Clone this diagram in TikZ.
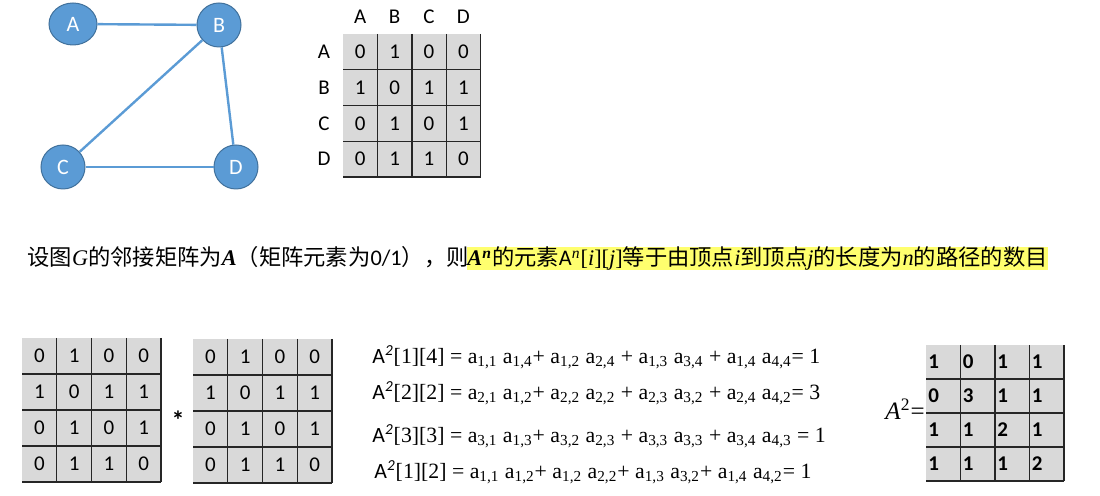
\documentclass[tikz,border=0pt]{standalone}
\usepackage{fontspec}
\setmainfont{Liberation Serif}
\newfontfamily\cjk{Noto Sans CJK SC}
\newfontfamily\calib{Carlito}
\usepackage{tikz}
\usetikzlibrary{positioning, shapes.geometric}

\definecolor{vblue}{HTML}{5B9BD5}
\definecolor{vborder}{HTML}{41719C}
\definecolor{cellgray}{HTML}{D9D9D9}
\definecolor{hilite}{RGB}{255,255,110}

\tikzset{
    vertex/.style={circle, fill=vblue, draw=vborder, line width=0.5pt, minimum size=22pt, inner sep=0pt, text=white, font=\calib\fontsize{11}{13}\selectfont},
    edge/.style={draw=vblue, line width=1.2pt},
    lbl/.style={inner sep=0pt, font=\calib\fontsize{10.5}{12}\selectfont},
    cellnum/.style={inner sep=0pt, font=\calib\fontsize{10.5}{12}\selectfont},
    gridline/.style={line width=0.7pt, black!85},
    eqn/.style={inner sep=0pt, anchor=west, font=\fontsize{10.9}{13}\selectfont}
}

\newcommand{\ax}[1]{a\textsubscript{#1}}
\newcommand{\Asq}{{\calib A\textsuperscript{\itshape 2}}}

% name, x0, y0, cell width, cell height, rows
\newcommand{\cellgrid}[6]{
    \fill[cellgray] (#2,#3) rectangle ({#2+4*#4},{#3+4*#5});
    \foreach \row [count=\r] in {#6} {
        \foreach \v [count=\c] in \row {
            \node[cellnum] (#1-\r-\c) at ({#2+(\c-0.5)*#4},{#3+(\r-0.5)*#5}) {\v};
        }
    }
    \foreach \k in {1,...,4} {
        \draw[gridline] ({#2+\k*#4},#3) -- ({#2+\k*#4},{#3+4*#5});
        \draw[gridline] (#2,{#3+\k*#5}) -- ({#2+4*#4},{#3+\k*#5});
    }
}

\begin{document}
\begin{tikzpicture}[x=0.5pt, y=-0.5pt]
    \useasboundingbox (0,0) rectangle (1100,496);

    \node[vertex, ellipse, minimum width=24pt, minimum height=21pt] (A) at (73,24) {A};
    \node[vertex] (B) at (219,25) {B};
    \node[vertex] (C) at (63,167) {C};
    \node[vertex] (D) at (236,167) {D};
    \draw[edge] (A) -- (B);
    \draw[edge] (B) -- (C);
    \draw[edge] (B) -- (D);
    \draw[edge] (C) -- (D);

    \cellgrid{adj}{343}{34}{34.4}{35.75}{{0,1,0,0},{1,0,1,1},{0,1,0,1},{0,1,1,0}}
    \foreach \n [count=\i] in {A,B,C,D} {
        \node[lbl] (col\n) at ({343+(\i-0.5)*34.4},17) {\n};
        \node[lbl] (row\n) at (324,{34+(\i-0.5)*35.75}) {\n};
    }

    \node[inner sep=0pt, anchor=base west, font=\fontsize{11.15}{13}\selectfont] (s1) at (27,266)
        {{\cjk 设图}\textit{G}{\cjk 的邻接矩阵为}\textbf{\textit{A}}{\cjk （矩阵元素为}{\calib 0/1}{\cjk ），则}};
    \node[fill=hilite, inner xsep=0pt, inner ysep=0pt, text height=9.5pt, text depth=2pt, anchor=base west,
        font=\fontsize{11.15}{13}\selectfont] (s2) at ([xshift=-1pt]s1.base east)
        {\textbf{\textit{A\textsuperscript{n}}}{\cjk 的元素}{\calib A}\textsuperscript{\textit{n}}[\textit{i}][\textit{j}]{\cjk 等于由顶点}\textit{i}{\cjk 到顶点}\textit{j}{\cjk 的长度为}\textit{n}{\cjk 的路径的数目}};

    \cellgrid{left}{22}{338}{34.75}{36}{{0,1,0,0},{1,0,1,1},{0,1,0,1},{0,1,1,0}}
    \node[cellnum, font=\calib\bfseries\fontsize{13}{14}\selectfont] (times) at (178,420) {*};
    \cellgrid{right}{193}{339}{34.75}{36}{{0,1,0,0},{1,0,1,1},{0,1,0,1},{0,1,1,0}}

    \node[eqn] (eq1) at (372,357) {\Asq[1][4] = \ax{1,1} \ax{1,4}+ \ax{1,2} \ax{2,4} + \ax{1,3} \ax{3,4} + \ax{1,4} \ax{4,4}= 1};
    \node[eqn] (eq2) at (372,393) {\Asq[2][2] = \ax{2,1} \ax{1,2}+ \ax{2,2} \ax{2,2} + \ax{2,3} \ax{3,2} + \ax{2,4} \ax{4,2}= 3};
    \node[eqn] (eq3) at (372,436) {\Asq[3][3] = \ax{3,1} \ax{1,3}+ \ax{3,2} \ax{2,3} + \ax{3,3} \ax{3,3} + \ax{3,4} \ax{4,3} = 1};
    \node[eqn] (eq4) at (374,472) {\Asq[1][2] = \ax{1,1} \ax{1,2}+ \ax{1,2} \ax{2,2}+ \ax{1,3} \ax{3,2}+ \ax{1,4} \ax{4,2}= 1};

    \fill[cellgray] (926,345) rectangle (1064,481);
    \foreach \row [count=\r] in {{1,0,1,1},{0,3,1,1},{1,1,2,1},{1,1,1,2}} {
        \foreach \v [count=\c] in \row {
            \node[cellnum, anchor=west, font=\calib\bfseries\fontsize{10.5}{12}\selectfont] (sq-\r-\c) at ({926+(\c-1)*34.5+2},{345+(\r-0.5)*34}) {\v};
        }
    }
    \foreach \k in {1,...,4} {
        \draw[gridline] ({926+\k*34.5},345) -- ({926+\k*34.5},481);
        \draw[gridline] (926,{345+\k*34}) -- (1064,{345+\k*34});
    }
    \node[inner sep=0pt, anchor=east, font=\fontsize{12.5}{14}\selectfont] (sqlbl) at (925,409) {\textit{A}\textsuperscript{2}=};
\end{tikzpicture}
\end{document}
